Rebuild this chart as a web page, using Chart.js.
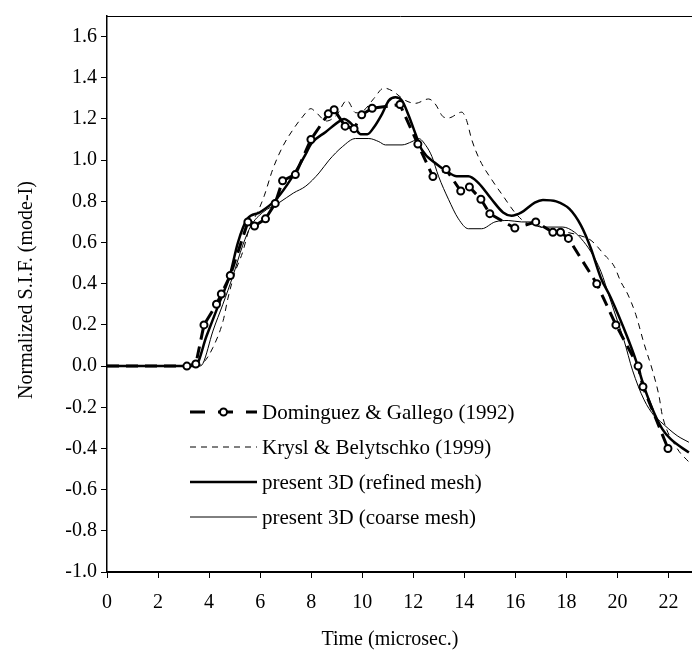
<!DOCTYPE html>
<html>
<head>
<meta charset="utf-8">
<script src="https://cdn.jsdelivr.net/npm/chart.js@4.4.1/dist/chart.umd.min.js"></script>
<style>
  html, body { margin: 0; padding: 0; background: #fff; overflow: hidden; }
  canvas { display: block; }
</style>
</head>
<body>
<canvas id="sifChart" width="700" height="656"></canvas>
<script>
// Dominguez & Gallego (1992)
const domT = [0, 3.13, 3.48, 3.8, 4.29, 4.48, 4.83, 5.52, 5.78, 6.21, 6.59, 6.88, 7.38, 7.99, 8.67, 8.9, 9.33, 9.68, 9.98, 10.39, 11.48, 12.18, 12.77, 13.29, 13.86, 14.2, 14.65, 15.0, 15.98, 16.8, 17.47, 17.77, 18.08, 19.19, 19.94, 20.81, 21.0, 21.98];
const domK = [0, 0.0, 0.01, 0.20, 0.30, 0.35, 0.44, 0.70, 0.68, 0.715, 0.79, 0.90, 0.93, 1.10, 1.225, 1.245, 1.165, 1.153, 1.22, 1.252, 1.27, 1.078, 0.92, 0.954, 0.85, 0.87, 0.81, 0.74, 0.67, 0.70, 0.65, 0.65, 0.62, 0.40, 0.20, 0.00, -0.10, -0.40];

// Krysl & Belytschko (1999)
const kryT = [0, 3.5, 3.8, 4.15, 4.55, 4.74, 5.0, 5.32, 5.58, 5.91, 6.17, 6.49, 6.88, 7.27, 7.66, 7.99, 8.18, 8.6, 9.0, 9.4, 9.75, 10.05, 10.46, 10.85, 11.17, 11.69, 12.08, 12.6, 12.86, 13.18, 13.38, 13.9, 14.09, 14.29, 14.61, 15.07, 15.52, 15.98, 16.37, 16.76, 17.5, 18.0, 18.5, 18.97, 19.49, 19.88, 20.13, 20.4, 20.72, 21.04, 21.37, 21.63, 21.76, 22.34, 22.8];
const kryK = [0, 0, 0.02, 0.09, 0.22, 0.33, 0.45, 0.555, 0.67, 0.75, 0.83, 0.954, 1.065, 1.145, 1.21, 1.25, 1.233, 1.19, 1.22, 1.29, 1.23, 1.24, 1.30, 1.35, 1.337, 1.29, 1.276, 1.297, 1.273, 1.21, 1.205, 1.233, 1.193, 1.10, 1.0, 0.906, 0.826, 0.746, 0.70, 0.683, 0.66, 0.65, 0.635, 0.61, 0.54, 0.483, 0.41, 0.35, 0.25, 0.11, -0.02, -0.146, -0.24, -0.40, -0.466];

// present 3D (refined mesh)
const refT = [0, 3.45, 3.9, 4.4, 4.81, 5.13, 5.5, 5.98, 6.63, 7.27, 7.79, 8.0, 8.57, 9.16, 9.3, 9.5, 9.74, 9.94, 10.2, 10.46, 10.78, 11.04, 11.3, 11.56, 11.82, 12.08, 12.34, 12.86, 13.31, 13.7, 14.16, 14.55, 15.07, 15.52, 15.85, 16.24, 16.76, 17.08, 17.6, 18.12, 18.57, 18.96, 19.35, 19.74, 20.39, 20.72, 21.04, 21.43, 21.76, 22.08, 22.8];
const refK = [0, 0, 0.146, 0.307, 0.44, 0.60, 0.715, 0.746, 0.81, 0.92, 1.03, 1.08, 1.137, 1.193, 1.20, 1.185, 1.153, 1.126, 1.126, 1.16, 1.225, 1.289, 1.305, 1.289, 1.217, 1.13, 1.05, 0.986, 0.946, 0.922, 0.922, 0.89, 0.81, 0.746, 0.73, 0.746, 0.794, 0.807, 0.80, 0.763, 0.683, 0.571, 0.428, 0.332, 0.14, 0.029, -0.099, -0.226, -0.306, -0.354, -0.42];

// present 3D (coarse mesh)
const coaT = [0, 3.6, 3.76, 4.15, 4.54, 4.94, 5.32, 5.65, 6.1, 6.75, 7.3, 7.79, 8.31, 8.7, 9.22, 9.74, 10.26, 10.65, 10.91, 11.56, 11.95, 12.21, 12.5, 12.73, 12.99, 13.38, 13.77, 14.16, 14.68, 15.2, 15.72, 16.24, 16.76, 17.02, 17.86, 18.32, 18.57, 18.96, 19.35, 19.7, 20.0, 20.26, 20.59, 21.04, 21.43, 21.69, 22.34, 22.8];
const coaK = [0, 0, 0.013, 0.17, 0.30, 0.44, 0.587, 0.683, 0.746, 0.794, 0.84, 0.874, 0.938, 1.0, 1.065, 1.105, 1.105, 1.09, 1.074, 1.074, 1.09, 1.105, 1.07, 1.018, 0.922, 0.81, 0.715, 0.667, 0.667, 0.70, 0.707, 0.70, 0.70, 0.675, 0.675, 0.65, 0.62, 0.555, 0.46, 0.33, 0.22, 0.124, -0.02, -0.163, -0.24, -0.27, -0.338, -0.37];

const seriesLabels = ['Dominguez & Gallego (1992)', 'Krysl & Belytschko (1999)', 'present 3D (refined mesh)', 'present 3D (coarse mesh)'];

const FONT = 'Liberation Serif, Times New Roman, serif';

function toPoints(ts, ks) {
    return ts.map((t, i) => ({ x: t, y: ks[i] }));
}

// 軸タイトル・上枠線・凡例を描く
const decorPlugin = {
    id: 'decor',
    afterDraw(chart) {
        const ctx = chart.ctx;
        const area = chart.chartArea;
        ctx.save();
        // 上の枠線
        ctx.strokeStyle = '#000';
        ctx.lineWidth = 1;
        ctx.beginPath();
        ctx.moveTo(area.left, area.top + 0.5);
        ctx.lineTo(area.right, area.top + 0.5);
        ctx.stroke();

        // 軸タイトル
        ctx.fillStyle = '#000';
        ctx.font = '20px ' + FONT;
        ctx.textAlign = 'center';
        ctx.textBaseline = 'middle';
        ctx.fillText('Time (microsec.)', 390, 640);
        ctx.translate(27, 290);
        ctx.rotate(-Math.PI / 2);
        ctx.fillText('Normalized S.I.F. (mode-I)', 0, 0);
        ctx.restore();

        // 凡例
        ctx.save();
        const x0 = 190, x1 = 257, rows = [412, 447, 482, 517];
        chart.data.datasets.forEach((ds, i) => {
            const y = rows[i];
            ctx.strokeStyle = '#000';
            ctx.lineWidth = ds.borderWidth;
            ctx.setLineDash(ds.legendDash || []);
            ctx.beginPath();
            ctx.moveTo(x0, y);
            ctx.lineTo(x1, y);
            ctx.stroke();
            ctx.setLineDash([]);
            if (i === 0) {
                ctx.beginPath();
                ctx.arc((x0 + x1) / 2, y, 3.5, 0, Math.PI * 2);
                ctx.fillStyle = '#fff';
                ctx.fill();
                ctx.lineWidth = 2;
                ctx.stroke();
            }
            ctx.fillStyle = '#000';
            ctx.font = '21px ' + FONT;
            ctx.textAlign = 'left';
            ctx.textBaseline = 'middle';
            ctx.fillText(ds.label, 262, y + 1);
        });
        ctx.restore();
    }
};

const datasets = [
    {
        label: seriesLabels[0],
        data: toPoints(domT, domK),
        borderColor: '#000',
        borderWidth: 3,
        borderDash: [12, 7],
        legendDash: [15, 13],
        tension: 0,
        pointRadius: ctx => (ctx.dataIndex === 0 ? 0 : 3.5),
        pointBorderWidth: 2,
        pointBackgroundColor: '#fff',
        pointBorderColor: '#000'
    },
    {
        label: seriesLabels[1],
        data: toPoints(kryT, kryK),
        borderColor: '#000',
        borderWidth: 1,
        borderDash: [6, 5],
        legendDash: [6, 5],
        cubicInterpolationMode: 'monotone',
        pointRadius: 0
    },
    {
        label: seriesLabels[2],
        data: toPoints(refT, refK),
        borderColor: '#000',
        borderWidth: 2.5,
        cubicInterpolationMode: 'monotone',
        pointRadius: 0
    },
    {
        label: seriesLabels[3],
        data: toPoints(coaT, coaK),
        borderColor: '#000',
        borderWidth: 1,
        cubicInterpolationMode: 'monotone',
        pointRadius: 0
    }
];

const ctx = document.getElementById('sifChart').getContext('2d');
new Chart(ctx, {
    type: 'line',
    data: { datasets: datasets },
    options: {
        responsive: false,
        animation: false,
        layout: { padding: { top: 7, right: 3, left: 0, bottom: 0 } },
        plugins: {
            legend: { display: false },
            tooltip: { enabled: false }
        },
        scales: {
            x: {
                type: 'linear',
                min: 0,
                max: 23,
                afterFit: s => { s.height = 84; },
                ticks: {
                    stepSize: 2,
                    includeBounds: false,
                    color: '#000',
                    padding: 13,
                    maxRotation: 0,
                    font: { family: FONT, size: 20 }
                },
                grid: { drawOnChartArea: false, drawTicks: true, tickLength: 6, color: '#000' },
                border: { display: true, color: '#000', width: 2 }
            },
            y: {
                type: 'linear',
                min: -1.0,
                max: 1.7,
                afterFit: s => { s.width = 107; },
                ticks: {
                    stepSize: 0.2,
                    includeBounds: false,
                    color: '#000',
                    padding: 4,
                    font: { family: FONT, size: 20 },
                    callback: v => (Math.abs(v) < 1e-9 ? '0.0' : v.toFixed(1))
                },
                grid: { drawOnChartArea: false, drawTicks: true, tickLength: 6, color: '#000' },
                border: { display: true, color: '#000', width: 1.5 }
            }
        }
    },
    plugins: [decorPlugin]
});
</script>
</body>
</html>
